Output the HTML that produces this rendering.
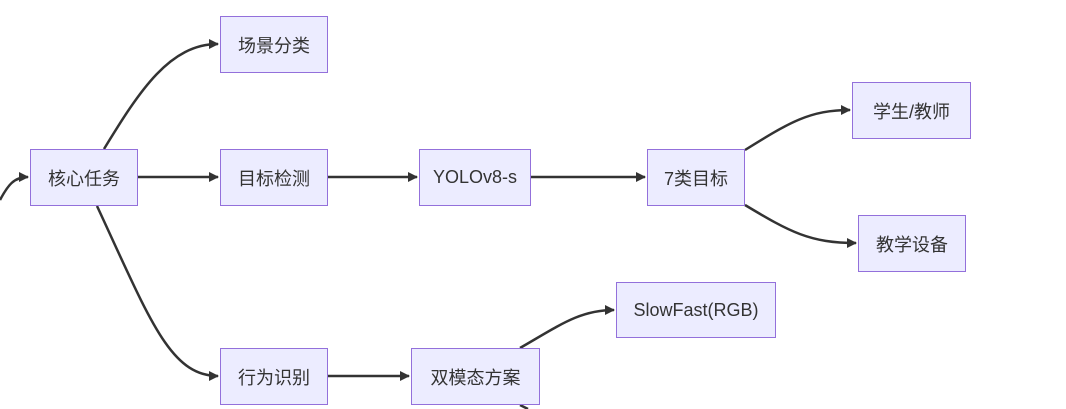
<!DOCTYPE html>
<html><head><meta charset="utf-8"><style>
body{margin:0;background:#fff;width:1066px;height:409px;overflow:hidden;position:relative;font-family:"Liberation Sans","Noto Sans CJK SC",sans-serif}
.n{position:absolute;box-sizing:border-box;background:#ECECFF;border:1.5px solid #9370DB;display:flex;align-items:center;justify-content:center;font-size:18px;color:#333}
svg{position:absolute;left:0;top:0}
</style></head><body>
<svg width="1066" height="409">
<defs><marker id="a" markerWidth="10" markerHeight="10" refX="9" refY="5" orient="auto" markerUnits="userSpaceOnUse"><path d="M0,0 L10,5 L0,10 z" fill="#333"/></marker></defs>
<g fill="none" stroke="#333" stroke-width="2.5" marker-end="url(#a)">
<path d="M0,200 C8,185 14,177 28,177"/>
<path d="M104,149 C140,90 170,44 218,44"/>
<path d="M138,177 L218,177"/>
<path d="M97,206 C150,320 170,376 218,376"/>
<path d="M328,177 L417,177"/>
<path d="M531,177 L645,177"/>
<path d="M745,150 C790,122 810,110 850,110"/>
<path d="M745,205 C790,232 810,243 856,243"/>
<path d="M328,376 L409,376"/>
<path d="M520,348 C560,325 580,310 614,310"/>
</g>
<path d="M520,405 L528,409" stroke="#333" stroke-width="2.5"/>
</svg>
<div class="n" style="left:30px;top:149px;width:108px;height:57px">核心任务</div>
<div class="n" style="left:220px;top:16px;width:108px;height:57px">场景分类</div>
<div class="n" style="left:220px;top:149px;width:108px;height:57px">目标检测</div>
<div class="n" style="left:220px;top:348px;width:108px;height:57px">行为识别</div>
<div class="n" style="left:419px;top:149px;width:112px;height:57px">YOLOv8-s</div>
<div class="n" style="left:647px;top:149px;width:98px;height:57px">7类目标</div>
<div class="n" style="left:852px;top:82px;width:119px;height:57px">学生/教师</div>
<div class="n" style="left:858px;top:215px;width:108px;height:57px">教学设备</div>
<div class="n" style="left:616px;top:282px;width:160px;height:56px">SlowFast(RGB)</div>
<div class="n" style="left:411px;top:348px;width:129px;height:57px">双模态方案</div>
</body></html>
